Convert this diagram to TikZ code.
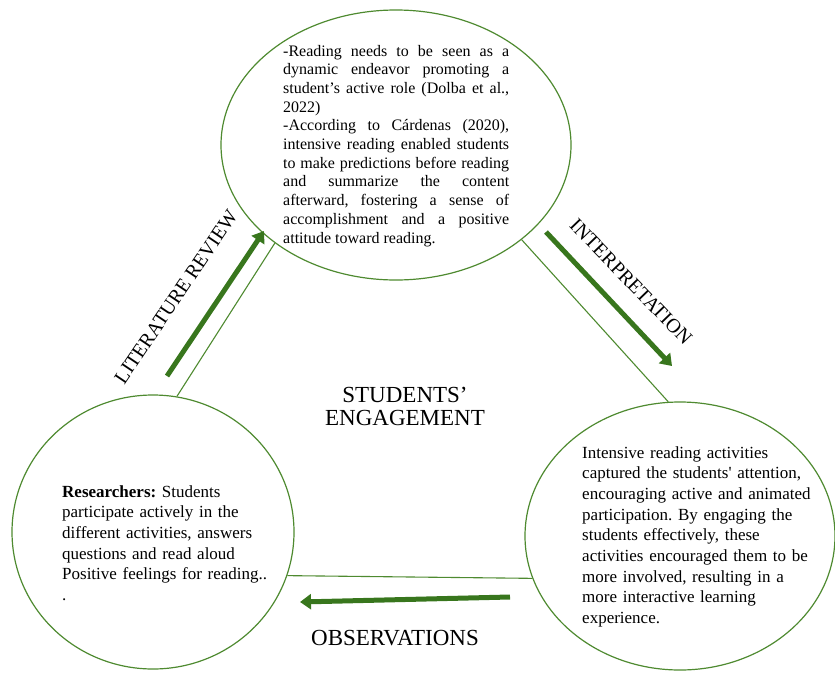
\documentclass[tikz,border=0pt]{standalone}
\usepackage{fontspec}
\setmainfont{Liberation Serif}
\usetikzlibrary{shapes.geometric,arrows.meta}
\definecolor{ringgreen}{RGB}{78,138,48}
\definecolor{flowgreen}{RGB}{56,118,29}
\hbadness=10000
\hyphenpenalty=10000
\frenchspacing
\begin{document}
\begin{tikzpicture}[x=1pt,y=-1pt,
  ring/.style={draw=ringgreen,line width=1.2pt,ellipse,inner sep=0pt},
  link/.style={draw=ringgreen,line width=1.1pt},
  flow/.style={draw=flowgreen,line width=5pt,-{Triangle[length=11pt,width=15pt]}},
  bodytext/.style={inner sep=0pt,anchor=base west,text=black,text width=245pt,
    align=left,font=\fontsize{17}{20.7}\selectfont},
  stagelabel/.style={inner sep=0pt,text=black,font=\fontsize{20}{22}\selectfont},
  bigtitle/.style={inner sep=0pt,text=black,font=\fontsize{23}{23}\selectfont,align=center}
]
\useasboundingbox (0,0) rectangle (835,672);

% three circles
\node[ring,minimum width=350pt,minimum height=270pt] (review) at (396,145) {};
\node[ring,minimum width=310pt,minimum height=268pt] (interp) at (680,536) {};
\node[ring,minimum width=282pt,minimum height=274pt] (obs) at (153,532) {};

% thin links between the circles
\draw[link] (obs.80) -- (review.219.7);
\draw[link] (review.-37.5) -- (interp.95.5);
\draw[link] (obs.-18.6) -- (interp.196.2);

% thick flow arrows
\coordinate (litA) at (167,376);
\coordinate (litB) at (264,231);
\coordinate (intA) at (546,232);
\coordinate (intB) at (672,366);
\coordinate (obsA) at (510,597);
\coordinate (obsB) at (300,602);
\draw[flow] (litA) -- (litB);
\draw[flow] (intA) -- (intB);
\draw[flow] (obsA) -- (obsB);

% stage labels
\node[stagelabel,rotate=56] (litlabel) at (176,297) {LITERATURE REVIEW};
\node[stagelabel,rotate=-46] (intlabel) at (631,282) {INTERPRETATION};
\node[inner sep=0pt,text=black,font=\fontsize{23}{23}\selectfont,anchor=base] (obslabel) at (395,645) {OBSERVATIONS};
\node[bigtitle] (centre) at (405,406) {STUDENTS’\\ENGAGEMENT};

% circle contents
\node[inner sep=0pt,anchor=base west,text=black,text width=226pt,align=justify,
  font=\fontsize{16}{18.7}\selectfont] (reviewtext) at (283,56)
  {-Reading needs to be seen as a\linebreak
   dynamic endeavor promoting a\linebreak
   student’s active role (Dolba et al.,\linebreak
   2022)\par
   -According to Cárdenas (2020),\linebreak
   intensive reading enabled students\linebreak
   to make predictions before reading\linebreak
   and summarize the content\linebreak
   afterward, fostering a sense of\linebreak
   accomplishment and a positive\linebreak
   attitude toward reading.};

\node[bodytext] (interptext) at (582,458)
  {Intensive reading activities\\
   captured the students\textquotesingle\ attention,\\
   encouraging active and animated\\
   participation. By engaging the\\
   students effectively, these\\
   activities encouraged them to be\\
   more involved, resulting in a\\
   more interactive learning\\
   experience.};

\node[bodytext] (obstext) at (62,497)
  {\textbf{Researchers:} Students\\
   participate actively in the\\
   different activities, answers\\
   questions and read aloud\\
   Positive feelings for reading..\\
   .};
\end{tikzpicture}
\end{document}
